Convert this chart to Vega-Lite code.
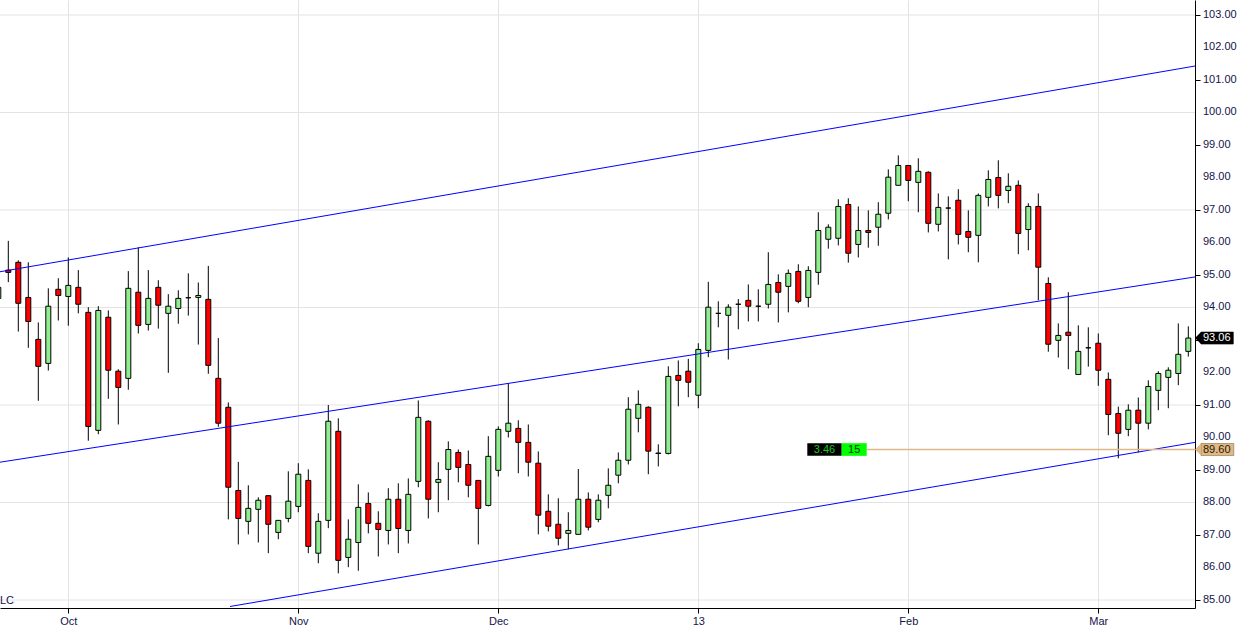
{
  "$schema": "https://vega.github.io/schema/vega-lite/v6.json",
  "width": 1195,
  "height": 608,
  "autosize": {"type": "none"},
  "padding": {"left": 0, "top": 0, "right": 54, "bottom": 24},
  "background": "white",
  "config": {"view": {"stroke": null}, "font": "Liberation Sans"},
  "datasets": {
    "grid": [{"g": 85}, {"g": 88}, {"g": 91}, {"g": 94}, {"g": 97}, {"g": 100}, {"g": 103}],
    "ylabels": [
      {"k": 119.47, "v": 85, "t": "85.00"}, {"k": 119.47, "v": 86, "t": "86.00"},
      {"k": 119.47, "v": 87, "t": "87.00"}, {"k": 119.47, "v": 88, "t": "88.00"},
      {"k": 119.47, "v": 89, "t": "89.00"}, {"k": 119.47, "v": 90, "t": "90.00"},
      {"k": 119.47, "v": 91, "t": "91.00"}, {"k": 119.47, "v": 92, "t": "92.00"},
      {"k": 119.47, "v": 94, "t": "94.00"}, {"k": 119.47, "v": 95, "t": "95.00"},
      {"k": 119.47, "v": 96, "t": "96.00"}, {"k": 119.47, "v": 97, "t": "97.00"},
      {"k": 119.47, "v": 98, "t": "98.00"}, {"k": 119.47, "v": 99, "t": "99.00"},
      {"k": 119.47, "v": 100, "t": "100.00"}, {"k": 119.47, "v": 101, "t": "101.00"},
      {"k": 119.47, "v": 102, "t": "102.00"}, {"k": 119.47, "v": 103, "t": "103.00"}
    ],
    "candles": [
      {"k": -1, "o": 94.28, "h": 94.9, "l": 94.0, "c": 94.62},
      {"k": 0, "o": 95.15, "h": 96.05, "l": 94.78, "c": 95.08},
      {"k": 1, "o": 95.39, "h": 95.45, "l": 93.26, "c": 94.13},
      {"k": 2, "o": 94.31, "h": 95.39, "l": 92.76, "c": 93.57},
      {"k": 3, "o": 93.02, "h": 93.54, "l": 91.13, "c": 92.19},
      {"k": 4, "o": 92.28, "h": 94.59, "l": 92.06, "c": 94.04},
      {"k": 5, "o": 94.56, "h": 94.90, "l": 93.60, "c": 94.37},
      {"k": 6, "o": 94.34, "h": 95.54, "l": 93.44, "c": 94.68},
      {"k": 7, "o": 94.62, "h": 95.15, "l": 93.82, "c": 94.10},
      {"k": 8, "o": 93.85, "h": 94.01, "l": 89.90, "c": 90.34},
      {"k": 9, "o": 90.22, "h": 94.04, "l": 90.10, "c": 93.91},
      {"k": 10, "o": 93.70, "h": 93.91, "l": 91.19, "c": 92.07},
      {"k": 11, "o": 92.04, "h": 92.10, "l": 90.40, "c": 91.54},
      {"k": 12, "o": 91.82, "h": 95.12, "l": 91.47, "c": 94.59},
      {"k": 13, "o": 94.47, "h": 95.85, "l": 93.20, "c": 93.45},
      {"k": 14, "o": 93.48, "h": 95.15, "l": 93.29, "c": 94.28},
      {"k": 15, "o": 94.62, "h": 94.84, "l": 93.35, "c": 94.07},
      {"k": 16, "o": 93.82, "h": 94.41, "l": 91.99, "c": 94.04},
      {"k": 17, "o": 93.97, "h": 94.53, "l": 93.50, "c": 94.28},
      {"k": 18, "o": 94.30, "h": 95.05, "l": 93.75, "c": 94.30},
      {"k": 19, "o": 94.31, "h": 94.77, "l": 92.86, "c": 94.37},
      {"k": 20, "o": 94.25, "h": 95.28, "l": 91.96, "c": 92.22},
      {"k": 21, "o": 91.82, "h": 93.06, "l": 90.33, "c": 90.44},
      {"k": 22, "o": 90.93, "h": 91.08, "l": 87.48, "c": 88.47},
      {"k": 23, "o": 88.37, "h": 89.25, "l": 86.71, "c": 87.51},
      {"k": 24, "o": 87.42, "h": 88.53, "l": 87.02, "c": 87.82},
      {"k": 25, "o": 87.79, "h": 88.16, "l": 86.77, "c": 88.07},
      {"k": 26, "o": 88.21, "h": 88.21, "l": 86.44, "c": 87.33},
      {"k": 27, "o": 87.08, "h": 87.45, "l": 86.87, "c": 87.45},
      {"k": 28, "o": 87.51, "h": 88.96, "l": 87.39, "c": 88.04},
      {"k": 29, "o": 87.88, "h": 89.21, "l": 87.70, "c": 88.87},
      {"k": 30, "o": 88.68, "h": 89.02, "l": 86.44, "c": 86.65},
      {"k": 31, "o": 86.44, "h": 87.67, "l": 86.13, "c": 87.42},
      {"k": 32, "o": 87.45, "h": 91.00, "l": 87.21, "c": 90.50},
      {"k": 33, "o": 90.19, "h": 90.59, "l": 85.82, "c": 86.22},
      {"k": 34, "o": 86.31, "h": 87.48, "l": 86.01, "c": 86.87},
      {"k": 35, "o": 86.77, "h": 88.56, "l": 85.90, "c": 87.85},
      {"k": 36, "o": 87.97, "h": 88.31, "l": 87.05, "c": 87.36},
      {"k": 37, "o": 87.36, "h": 87.73, "l": 86.34, "c": 87.17},
      {"k": 38, "o": 87.14, "h": 88.44, "l": 86.71, "c": 88.10},
      {"k": 39, "o": 88.10, "h": 88.59, "l": 86.44, "c": 87.20},
      {"k": 40, "o": 87.14, "h": 88.74, "l": 86.74, "c": 88.25},
      {"k": 41, "o": 88.65, "h": 91.14, "l": 88.47, "c": 90.62},
      {"k": 42, "o": 90.50, "h": 90.53, "l": 87.51, "c": 88.10},
      {"k": 43, "o": 88.62, "h": 89.24, "l": 87.70, "c": 88.71},
      {"k": 44, "o": 89.02, "h": 89.88, "l": 88.07, "c": 89.63},
      {"k": 45, "o": 89.54, "h": 89.63, "l": 88.62, "c": 89.08},
      {"k": 46, "o": 89.17, "h": 89.60, "l": 88.16, "c": 88.53},
      {"k": 47, "o": 88.68, "h": 88.68, "l": 86.71, "c": 87.82},
      {"k": 48, "o": 87.91, "h": 90.04, "l": 87.88, "c": 89.42},
      {"k": 49, "o": 88.99, "h": 90.34, "l": 88.80, "c": 90.25},
      {"k": 50, "o": 90.19, "h": 91.67, "l": 90.00, "c": 90.44},
      {"k": 51, "o": 90.28, "h": 90.53, "l": 88.90, "c": 89.85},
      {"k": 52, "o": 89.85, "h": 90.40, "l": 88.80, "c": 89.24},
      {"k": 53, "o": 89.21, "h": 89.57, "l": 87.02, "c": 87.61},
      {"k": 54, "o": 87.73, "h": 88.25, "l": 87.11, "c": 87.27},
      {"k": 55, "o": 87.33, "h": 88.13, "l": 86.68, "c": 86.90},
      {"k": 56, "o": 87.05, "h": 87.70, "l": 86.56, "c": 87.14},
      {"k": 57, "o": 87.02, "h": 89.03, "l": 87.02, "c": 88.10},
      {"k": 58, "o": 88.10, "h": 88.31, "l": 87.14, "c": 87.24},
      {"k": 59, "o": 87.48, "h": 88.25, "l": 87.39, "c": 88.07},
      {"k": 60, "o": 88.22, "h": 89.05, "l": 87.82, "c": 88.53},
      {"k": 61, "o": 88.84, "h": 89.54, "l": 88.59, "c": 89.30},
      {"k": 62, "o": 89.30, "h": 91.24, "l": 89.17, "c": 90.87},
      {"k": 63, "o": 90.59, "h": 91.45, "l": 90.16, "c": 91.02},
      {"k": 64, "o": 90.93, "h": 90.96, "l": 88.87, "c": 89.58},
      {"k": 65, "o": 89.51, "h": 89.79, "l": 89.11, "c": 89.52},
      {"k": 66, "o": 89.51, "h": 92.19, "l": 89.48, "c": 91.88},
      {"k": 67, "o": 91.91, "h": 92.37, "l": 90.96, "c": 91.76},
      {"k": 68, "o": 92.04, "h": 92.42, "l": 91.24, "c": 91.70},
      {"k": 69, "o": 91.30, "h": 92.90, "l": 90.90, "c": 92.71},
      {"k": 70, "o": 92.68, "h": 94.79, "l": 92.47, "c": 94.01},
      {"k": 71, "o": 93.82, "h": 94.19, "l": 93.39, "c": 93.82},
      {"k": 72, "o": 93.76, "h": 94.10, "l": 92.40, "c": 94.01},
      {"k": 73, "o": 94.10, "h": 94.26, "l": 93.33, "c": 94.10},
      {"k": 74, "o": 94.22, "h": 94.71, "l": 93.57, "c": 94.04},
      {"k": 75, "o": 94.04, "h": 94.56, "l": 93.57, "c": 94.04},
      {"k": 76, "o": 94.10, "h": 95.70, "l": 93.97, "c": 94.71},
      {"k": 77, "o": 94.77, "h": 95.02, "l": 93.54, "c": 94.47},
      {"k": 78, "o": 94.65, "h": 95.17, "l": 93.85, "c": 95.05},
      {"k": 79, "o": 95.11, "h": 95.33, "l": 94.13, "c": 94.19},
      {"k": 80, "o": 94.31, "h": 95.27, "l": 94.01, "c": 95.14},
      {"k": 81, "o": 95.08, "h": 96.93, "l": 94.70, "c": 96.37},
      {"k": 82, "o": 96.10, "h": 96.56, "l": 95.81, "c": 96.47},
      {"k": 83, "o": 96.13, "h": 97.33, "l": 95.91, "c": 97.11},
      {"k": 84, "o": 97.17, "h": 97.36, "l": 95.38, "c": 95.67},
      {"k": 85, "o": 95.94, "h": 97.11, "l": 95.54, "c": 96.37},
      {"k": 86, "o": 96.37, "h": 96.99, "l": 95.84, "c": 96.31},
      {"k": 87, "o": 96.47, "h": 97.24, "l": 95.90, "c": 96.87},
      {"k": 88, "o": 96.90, "h": 98.25, "l": 96.71, "c": 98.01},
      {"k": 89, "o": 97.76, "h": 98.68, "l": 97.76, "c": 98.37},
      {"k": 90, "o": 98.37, "h": 98.37, "l": 97.27, "c": 97.91},
      {"k": 91, "o": 97.85, "h": 98.59, "l": 96.93, "c": 98.19},
      {"k": 92, "o": 98.16, "h": 98.19, "l": 96.31, "c": 96.59},
      {"k": 93, "o": 96.56, "h": 97.51, "l": 96.34, "c": 97.08},
      {"k": 94, "o": 97.06, "h": 97.42, "l": 95.48, "c": 97.06},
      {"k": 95, "o": 97.30, "h": 97.64, "l": 95.94, "c": 96.25},
      {"k": 96, "o": 96.34, "h": 96.99, "l": 95.70, "c": 96.16},
      {"k": 97, "o": 96.22, "h": 97.51, "l": 95.39, "c": 97.45},
      {"k": 98, "o": 97.39, "h": 98.22, "l": 97.11, "c": 97.94},
      {"k": 99, "o": 98.00, "h": 98.53, "l": 97.05, "c": 97.45},
      {"k": 100, "o": 97.60, "h": 98.13, "l": 97.21, "c": 97.73},
      {"k": 101, "o": 97.76, "h": 97.91, "l": 95.64, "c": 96.28},
      {"k": 102, "o": 96.40, "h": 97.21, "l": 95.76, "c": 97.11},
      {"k": 103, "o": 97.11, "h": 97.51, "l": 94.22, "c": 95.24},
      {"k": 104, "o": 94.74, "h": 94.93, "l": 92.64, "c": 92.87},
      {"k": 105, "o": 92.99, "h": 93.51, "l": 92.46, "c": 93.14},
      {"k": 106, "o": 93.24, "h": 94.47, "l": 92.10, "c": 93.14},
      {"k": 107, "o": 91.94, "h": 93.45, "l": 91.94, "c": 92.65},
      {"k": 108, "o": 92.76, "h": 93.39, "l": 92.18, "c": 92.76},
      {"k": 109, "o": 92.90, "h": 93.20, "l": 91.59, "c": 92.07},
      {"k": 110, "o": 91.79, "h": 92.00, "l": 90.07, "c": 90.71},
      {"k": 111, "o": 90.74, "h": 90.95, "l": 89.36, "c": 90.13},
      {"k": 112, "o": 90.25, "h": 91.02, "l": 90.04, "c": 90.84},
      {"k": 113, "o": 90.84, "h": 91.23, "l": 89.54, "c": 90.44},
      {"k": 114, "o": 90.44, "h": 91.76, "l": 90.25, "c": 91.57},
      {"k": 115, "o": 91.45, "h": 92.04, "l": 90.84, "c": 91.97},
      {"k": 116, "o": 91.85, "h": 92.16, "l": 90.90, "c": 92.07},
      {"k": 117, "o": 91.97, "h": 93.51, "l": 91.61, "c": 92.56},
      {"k": 118, "o": 92.65, "h": 93.42, "l": 92.49, "c": 93.06}
    ],
    "channels": [
      {"name": "top", "k": -0.83, "p": 95.10},
      {"name": "top", "k": 118.67, "p": 101.43},
      {"name": "mid", "k": -0.83, "p": 89.24},
      {"name": "mid", "k": 118.67, "p": 94.94},
      {"name": "low", "k": 22.17, "p": 84.80},
      {"name": "low", "k": 118.67, "p": 89.85}
    ],
    "level": [{"k": 85.84, "k2": 118.67, "p": 89.63}],
    "boxes": [
      {"k": 79.9, "k2": 83.34, "p": 89.435, "p2": 89.825, "fill": "black"},
      {"k": 83.34, "k2": 85.84, "p": 89.435, "p2": 89.825, "fill": "lime"}
    ],
    "boxtext": [
      {"k": 81.62, "p": 89.63, "t": "3.46", "col": "green"},
      {"k": 84.59, "p": 89.63, "t": "15", "col": "dark"}
    ],
    "tags": [
      {"k": 119.27, "k2": 122.5, "p": 93.06, "lo": 92.875, "hi": 93.245, "t": "93.06", "kind": "last"},
      {"k": 119.27, "k2": 122.55, "p": 89.63, "lo": 89.445, "hi": 89.815, "t": "89.60", "kind": "level"}
    ],
    "corner": [{"k": -0.83, "p": 84.97, "t": "LC"}]
  },
  "layer": [
    {
      "data": {"name": "grid"},
      "mark": {"type": "rule", "color": "#e3e3e3", "strokeWidth": 1},
      "encoding": {
        "y": {
          "field": "g", "type": "quantitative",
          "scale": {"domain": [84.7538, 103.4615], "nice": false, "zero": false},
          "axis": {
            "orient": "right", "title": null, "grid": false, "labels": false,
            "values": [85, 86, 87, 88, 89, 90, 91, 92, 93, 94, 95, 96, 97, 98, 99, 100, 101, 102, 103],
            "tickSize": 5, "tickColor": "black", "domainColor": "black"
          }
        }
      }
    },
    {
      "data": {"name": "candles"},
      "mark": {"type": "rule", "color": "black", "strokeWidth": 1, "clip": true},
      "encoding": {
        "x": {
          "field": "k", "type": "quantitative",
          "scale": {"domain": [-0.83, 118.67], "nice": false, "zero": false, "padding": 0},
          "axis": {
            "orient": "bottom", "title": null, "values": [6, 29, 49, 69, 90, 109],
            "labelExpr": "datum.value == 6 ? 'Oct' : datum.value == 29 ? 'Nov' : datum.value == 49 ? 'Dec' : datum.value == 69 ? '13' : datum.value == 90 ? 'Feb' : 'Mar'",
            "grid": true, "gridColor": "#e3e3e3", "tickSize": 5, "tickColor": "black",
            "domainColor": "black", "labelFontSize": 11, "labelColor": "#14144a",
            "labelPadding": 2, "labelFont": "Liberation Sans", "labelOverlap": false
          }
        },
        "y": {"field": "l", "type": "quantitative"},
        "y2": {"field": "h"}
      }
    },
    {
      "data": {"name": "candles"},
      "mark": {"type": "bar", "size": 5, "stroke": "black", "strokeWidth": 1, "clip": true},
      "encoding": {
        "x": {"field": "k", "type": "quantitative"},
        "y": {"field": "o", "type": "quantitative"},
        "y2": {"field": "c"},
        "color": {"condition": {"test": "datum.c >= datum.o", "value": "#90ee90"}, "value": "#ff0000"}
      }
    },
    {
      "data": {"name": "channels"},
      "mark": {"type": "line", "color": "#0000ff", "strokeWidth": 1, "clip": true},
      "encoding": {
        "x": {"field": "k", "type": "quantitative"},
        "y": {"field": "p", "type": "quantitative"},
        "detail": {"field": "name"}
      }
    },
    {
      "data": {"name": "level"},
      "mark": {"type": "rule", "color": "#deb887", "strokeWidth": 1.5, "clip": true},
      "encoding": {
        "x": {"field": "k", "type": "quantitative"},
        "x2": {"field": "k2"},
        "y": {"field": "p", "type": "quantitative"}
      }
    },
    {
      "data": {"name": "boxes"},
      "mark": {"type": "rect"},
      "encoding": {
        "x": {"field": "k", "type": "quantitative"},
        "x2": {"field": "k2"},
        "y": {"field": "p", "type": "quantitative"},
        "y2": {"field": "p2"},
        "color": {"condition": {"test": "datum.fill == 'black'", "value": "#000000"}, "value": "#00ff00"}
      }
    },
    {
      "data": {"name": "boxtext"},
      "mark": {"type": "text", "fontSize": 11, "font": "Liberation Sans", "baseline": "middle", "align": "center"},
      "encoding": {
        "x": {"field": "k", "type": "quantitative"},
        "y": {"field": "p", "type": "quantitative"},
        "text": {"field": "t"},
        "color": {"condition": {"test": "datum.col == 'green'", "value": "#19c819"}, "value": "#003300"}
      }
    },
    {
      "data": {"name": "ylabels"},
      "mark": {"type": "text", "fontSize": 11, "font": "Liberation Sans", "baseline": "middle", "align": "left", "color": "#14144a"},
      "encoding": {
        "x": {"field": "k", "type": "quantitative"},
        "y": {"field": "v", "type": "quantitative"},
        "text": {"field": "t"}
      }
    },
    {
      "data": {"name": "tags"},
      "mark": {"type": "rect", "strokeWidth": 0.6},
      "encoding": {
        "x": {"field": "k", "type": "quantitative"},
        "x2": {"field": "k2"},
        "y": {"field": "lo", "type": "quantitative"},
        "y2": {"field": "hi"},
        "color": {"condition": {"test": "datum.kind == 'last'", "value": "#000000"}, "value": "#deb887"},
        "stroke": {"condition": {"test": "datum.kind == 'last'", "value": "#000000"}, "value": "#8a6d45"}
      }
    },
    {
      "data": {"name": "tags"},
      "mark": {"type": "point", "shape": "M0,-1L-1,0L0,1Z", "size": 144, "filled": true, "opacity": 1},
      "encoding": {
        "x": {"field": "k", "type": "quantitative"},
        "y": {"field": "p", "type": "quantitative"},
        "color": {"condition": {"test": "datum.kind == 'last'", "value": "#000000"}, "value": "#deb887"}
      }
    },
    {
      "data": {"name": "tags"},
      "mark": {"type": "text", "fontSize": 11, "font": "Liberation Sans", "baseline": "middle", "align": "left", "dx": 2},
      "encoding": {
        "x": {"field": "k", "type": "quantitative"},
        "y": {"field": "p", "type": "quantitative"},
        "text": {"field": "t"},
        "color": {"condition": {"test": "datum.kind == 'last'", "value": "#ffffff"}, "value": "#2a1a00"}
      }
    },
    {
      "data": {"name": "corner"},
      "mark": {"type": "text", "fontSize": 11, "font": "Liberation Sans", "baseline": "middle", "align": "left", "color": "#14144a"},
      "encoding": {
        "x": {"field": "k", "type": "quantitative"},
        "y": {"field": "p", "type": "quantitative"},
        "text": {"field": "t"}
      }
    }
  ]
}
